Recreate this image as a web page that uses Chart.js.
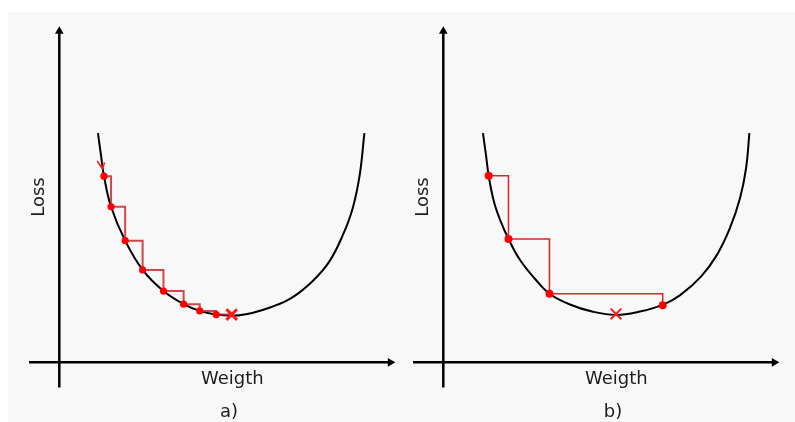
<!DOCTYPE html>
<html>
<head>
<meta charset="utf-8">
<script src="https://cdn.jsdelivr.net/npm/chart.js@4"></script>
<style>
  body { margin: 0; background: #fff; }
  #wrap { position: relative; width: 795px; height: 422px; overflow: hidden; }
  #bg { position: absolute; left: 8px; top: 12px; right: 0; bottom: 0; background: #f8f8f8; }
  canvas { position: absolute; top: 0; }
  #panelA { left: 0; }
  #panelB { left: 384px; }
</style>
</head>
<body>
<div id="wrap">
  <div id="bg"></div>
  <canvas id="panelA" width="400" height="422"></canvas>
  <canvas id="panelB" width="411" height="422"></canvas>
</div>
<script>
// values, in axis units (origin at the axes crossing)

// axes: start and tip
const axisX = [-0.9, 10];
const axisY = [-0.75, 10];

// a) small learning rate
const curveAX = [1.15, 1.24, 1.33, 1.54, 1.96, 2.48, 3.10, 3.70, 4.18, 4.67, 5.23, 5.74, 6.27, 6.90, 7.52, 8.03, 8.44, 8.73, 8.94, 9.08];
const curveAY = [6.82, 6.17, 5.54, 4.63, 3.62, 2.75, 2.12, 1.73, 1.53, 1.42, 1.39, 1.47, 1.63, 1.91, 2.40, 2.99, 3.79, 4.58, 5.57, 6.82];
const stepsAX = [1.33, 1.54, 1.96, 2.48, 3.10, 3.70, 4.18, 4.67];
const stepsAY = [5.54, 4.63, 3.62, 2.75, 2.12, 1.73, 1.53, 1.42];
const minAX = [5.13];
const minAY = [1.42];
const startArrowAX = [1.13, 1.28, 1.35];
const startArrowAY = [5.99, 5.76, 5.95];

// b) large learning rate
const curveBX = [1.18, 1.27, 1.35, 1.51, 1.69, 1.94, 2.28, 2.73, 3.16, 3.77, 4.43, 5.14, 5.85, 6.53, 7.05, 7.67, 8.14, 8.53, 8.83, 9.01, 9.11];
const curveBY = [6.82, 6.17, 5.55, 4.77, 4.24, 3.67, 3.05, 2.48, 2.04, 1.72, 1.51, 1.41, 1.51, 1.71, 2.00, 2.55, 3.19, 3.99, 4.88, 5.77, 6.82];
const stepsBX = [1.35, 1.94, 3.16, 6.53];
const stepsBY = [5.55, 3.67, 2.04, 1.70];
const minBX = [5.14];
const minBY = [1.44];

const xTitle = "Weigth";
const yTitle = "Loss";

// layout
const PX = 33.6;          // pixels per unit
const ORIGIN = { x: 59.3, y: 362.3 };
const H = 422;
const ARROW = 5;          // arrowhead radius, px

const pts = (xs, ys) => xs.map((x, i) => ({ x: x, y: ys[i] }));

const textPlugin = {
    id: "panelText",
    afterDatasetsDraw(chart, args, opts) {
        const { ctx, scales: { x, y } } = chart;
        ctx.save();
        ctx.fillStyle = "#1c1c1c";
        ctx.font = "18px 'DejaVu Sans'";
        ctx.textAlign = "center";
        ctx.textBaseline = "middle";
        opts.labels.forEach(l => {
            ctx.save();
            ctx.translate(x.getPixelForValue(l.x), y.getPixelForValue(l.y));
            ctx.rotate(l.rot || 0);
            ctx.fillText(l.text, 0, 0);
            ctx.restore();
        });
        ctx.restore();
    }
};

function makePanel(id, width, p) {

    const tip = ARROW / PX;

    const datasets = [];

    datasets.push({
        data: pts(p.minX, p.minY),
        showLine: false,
        pointStyle: "crossRot",
        pointRadius: 7.5,
        pointBorderWidth: p.crossWidth,
        pointBorderColor: "#ff1a1a",
        pointBackgroundColor: "#ff1a1a"
    });

    datasets.push({
        data: pts(p.stepsX, p.stepsY),
        showLine: false,
        pointStyle: "circle",
        pointRadius: p.dotRadius,
        pointBorderWidth: 0,
        pointBackgroundColor: "#ff0000"
    });

    if (p.arrowX) {
        datasets.push({
            data: pts(p.arrowX, p.arrowY),
            borderColor: "#ff2020",
            borderWidth: 1.6,
            pointRadius: 0,
            tension: 0
        });
    }

    const path = p.stepsToMin
        ? pts(p.stepsX.concat(p.minX), p.stepsY.concat(p.minY))
        : pts(p.stepsX, p.stepsY);

    datasets.push({
        data: path,
        stepped: "before",
        borderColor: p.stepColor,
        borderWidth: p.stepWidth,
        pointRadius: 0
    });

    datasets.push({
        data: pts(p.curveX, p.curveY),
        borderColor: "#000",
        borderWidth: 2,
        pointRadius: 0,
        tension: 0.4
    });

    // axes with arrowheads
    datasets.push({
        data: [{ x: axisX[0], y: 0 }, { x: axisX[1] - tip, y: 0 }],
        borderColor: "#000",
        borderWidth: 2.5,
        pointRadius: [0, ARROW],
        pointStyle: "triangle",
        pointRotation: 90,
        pointBorderWidth: 0,
        pointBackgroundColor: "#000"
    });
    datasets.push({
        data: [{ x: 0, y: axisY[0] }, { x: 0, y: axisY[1] - tip }],
        borderColor: "#000",
        borderWidth: 2.5,
        pointRadius: [0, ARROW],
        pointStyle: "triangle",
        pointRotation: 0,
        pointBorderWidth: 0,
        pointBackgroundColor: "#000"
    });

    datasets.forEach(d => { d.clip = false; });

    return new Chart(document.getElementById(id), {
        type: "line",
        data: { datasets: datasets },
        options: {
            responsive: false,
            animation: false,
            events: [],
            layout: { padding: 0, autoPadding: false },
            scales: {
                x: { type: "linear", display: false, min: -ORIGIN.x / PX, max: (width - ORIGIN.x) / PX },
                y: { type: "linear", display: false, min: -(H - ORIGIN.y) / PX, max: ORIGIN.y / PX }
            },
            plugins: {
                legend: { display: false },
                tooltip: { enabled: false },
                panelText: {
                    labels: [
                        { text: yTitle, x: -0.59, y: 4.92, rot: -Math.PI / 2 },
                        { text: xTitle, x: 5.15, y: -0.5 },
                        { text: p.tag, x: 5.05, y: -1.5 }
                    ]
                }
            }
        },
        plugins: [textPlugin]
    });
}

makePanel("panelA", 400, {
    curveX: curveAX, curveY: curveAY,
    stepsX: stepsAX, stepsY: stepsAY,
    minX: minAX, minY: minAY,
    arrowX: startArrowAX, arrowY: startArrowAY,
    stepsToMin: true,
    stepColor: "rgba(200, 40, 40, 0.85)",
    stepWidth: 2,
    dotRadius: 3.6,
    crossWidth: 3,
    tag: "a)"
});

makePanel("panelB", 411, {
    curveX: curveBX, curveY: curveBY,
    stepsX: stepsBX, stepsY: stepsBY,
    minX: minBX, minY: minBY,
    stepsToMin: false,
    stepColor: "#dc2525",
    stepWidth: 1.5,
    dotRadius: 4,
    crossWidth: 2,
    tag: "b)"
});
</script>
</body>
</html>
